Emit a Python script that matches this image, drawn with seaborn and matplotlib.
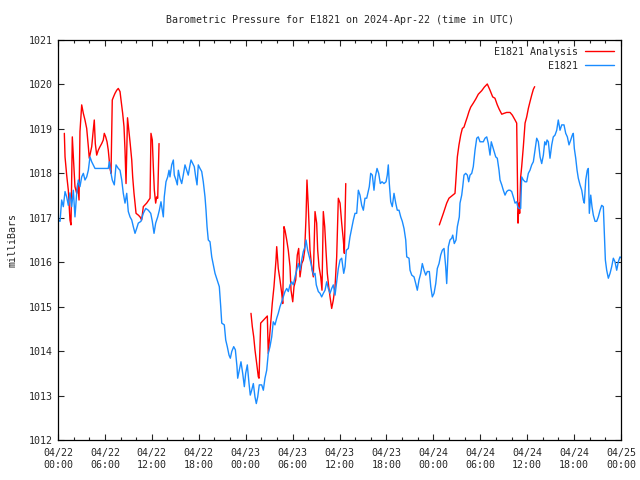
import pandas as pd
import seaborn as sns
import matplotlib
matplotlib.use("Agg")
import matplotlib.pyplot as plt
from matplotlib.lines import Line2D

# hours since 2024-04-22 00:00 UTC
e1821_hours = [0.00, 0.26, 0.47, 0.68, 0.90, 1.11, 1.32, 1.53, 1.75, 1.96, 2.17, 2.39, 2.60, 2.81, 3.03, 3.24,
               3.45, 3.67, 3.88, 4.09, 4.31, 4.51, 4.73, 6.43, 6.56, 6.78, 6.94, 7.20, 7.42, 7.71, 7.93, 8.15,
               8.35, 8.57, 8.79, 8.99, 9.21, 9.43, 9.63, 9.85, 10.06, 10.27, 10.61, 10.91, 11.22, 11.55, 11.86,
               12.06, 12.28, 12.49, 12.75, 12.96, 13.17, 13.34, 13.47, 13.59, 13.81, 14.03, 14.20, 14.32, 14.54,
               14.75, 14.87, 15.09, 15.26, 15.39, 15.60, 15.82, 16.02, 16.24, 16.46, 16.66, 16.84, 17.01, 17.23,
               17.43, 17.61, 17.78, 17.94, 18.16, 18.38, 18.58, 18.80, 18.93, 19.06, 19.22, 19.44, 19.66, 19.86,
               20.08, 20.42, 20.63, 20.81, 20.94, 21.27, 21.45, 21.65, 21.87, 22.04, 22.22, 22.47, 22.68, 22.89,
               22.98, 23.19, 23.40, 23.62, 23.83, 24.00, 24.21, 24.43, 24.59, 24.77, 24.98, 25.19, 25.36, 25.54,
               25.74, 26.05, 26.26, 26.47, 26.69, 26.89, 27.11, 27.33, 27.53, 27.75, 27.97, 28.17, 28.39, 28.61,
               28.81, 29.03, 29.25, 29.45, 29.67, 29.89, 30.09, 30.31, 30.53, 30.73, 30.95, 31.17, 31.37, 31.59,
               31.72, 31.93, 32.14, 32.36, 32.52, 32.70, 32.87, 33.03, 33.29, 33.51, 33.72, 33.93, 34.15, 34.36,
               34.57, 34.79, 35.00, 35.21, 35.43, 35.64, 35.85, 36.07, 36.28, 36.54, 36.71, 36.87, 37.13, 37.34,
               37.56, 37.77, 37.98, 38.20, 38.41, 38.62, 38.84, 39.05, 39.26, 39.48, 39.81, 39.99, 40.20, 40.41,
               40.58, 40.80, 41.01, 41.22, 41.44, 41.69, 41.95, 42.11, 42.24, 42.37, 42.55, 42.75, 42.97, 43.19,
               43.39, 43.61, 43.83, 44.03, 44.25, 44.47, 44.60, 44.89, 45.02, 45.24, 45.53, 45.75, 45.95, 46.17,
               46.39, 46.59, 46.81, 47.03, 47.23, 47.49, 47.67, 47.87, 48.09, 48.31, 48.51, 48.73, 48.94, 49.15,
               49.37, 49.58, 49.71, 49.92, 50.13, 50.35, 50.48, 50.68, 50.90, 51.07, 51.32, 51.41, 51.63, 51.76,
               51.92, 52.14, 52.35, 52.52, 52.69, 52.91, 53.11, 53.33, 53.55, 53.75, 53.97, 54.19, 54.39, 54.61,
               54.83, 55.03, 55.25, 55.41, 55.59, 55.76, 55.98, 56.18, 56.40, 56.53, 56.75, 56.95, 57.17, 57.38,
               57.59, 57.81, 58.02, 58.23, 58.45, 58.66, 58.79, 58.96, 59.17, 59.30, 59.51, 59.73, 59.94, 60.15,
               60.36, 60.58, 60.79, 61.00, 61.22, 61.43, 61.65, 61.86, 62.07, 62.25, 62.41, 62.54, 62.71, 62.92,
               63.14, 63.34, 63.56, 63.78, 63.98, 64.20, 64.42, 64.71, 64.93, 65.14, 65.35, 65.57, 65.77, 65.90,
               66.03, 66.21, 66.38, 66.54, 66.76, 66.98, 67.18, 67.31, 67.49, 67.69, 67.82, 67.95, 68.13, 68.29,
               68.46, 68.68, 68.89, 69.10, 69.32, 69.53, 69.74, 69.87, 70.00, 70.17, 70.38, 70.60, 70.81, 71.02,
               71.23, 71.45, 71.66, 71.87, 72.00]
e1821_mb = [1016.95, 1016.92, 1017.40, 1017.25, 1017.59, 1017.47, 1017.28, 1017.56, 1017.25, 1017.62, 1017.02,
            1017.55, 1017.85, 1017.70, 1017.92, 1018.00, 1017.85, 1017.92, 1018.07, 1018.37, 1018.26, 1018.19,
            1018.11, 1018.11, 1018.26, 1018.00, 1017.85, 1017.74, 1018.19, 1018.11, 1018.07, 1017.85, 1017.55,
            1017.33, 1017.55, 1017.14, 1017.02, 1016.95, 1016.80, 1016.65, 1016.76, 1016.88, 1016.92, 1017.10,
            1017.21, 1017.17, 1017.10, 1016.92, 1016.65, 1016.88, 1017.02, 1017.17, 1017.36, 1017.17, 1017.02,
            1017.47, 1017.81, 1017.92, 1018.07, 1017.92, 1018.19, 1018.30, 1017.96, 1017.85, 1017.74, 1018.07,
            1017.89, 1017.77, 1017.96, 1018.19, 1018.07, 1017.96, 1018.15, 1018.30, 1018.22, 1018.15, 1017.92,
            1017.74, 1018.19, 1018.11, 1018.04, 1017.81, 1017.47, 1017.17, 1016.80, 1016.50, 1016.46, 1016.12,
            1015.94, 1015.75, 1015.56, 1015.45, 1015.00, 1014.63, 1014.59, 1014.25, 1014.10, 1013.91, 1013.84,
            1013.99, 1014.10, 1014.03, 1013.65, 1013.39, 1013.57, 1013.76, 1013.50, 1013.20, 1013.50, 1013.69,
            1013.27, 1013.01, 1013.12, 1013.27, 1012.97, 1012.82, 1012.97, 1013.24, 1013.24, 1013.12, 1013.39,
            1013.57, 1013.95, 1014.10, 1014.32, 1014.66, 1014.59, 1014.74, 1014.85, 1015.00, 1015.11, 1015.22,
            1015.34, 1015.41, 1015.34, 1015.49, 1015.56, 1015.49, 1015.67, 1015.82, 1015.97, 1015.82, 1016.05,
            1016.24, 1016.35, 1016.50, 1016.27, 1016.12, 1015.97, 1015.82, 1015.71, 1015.75, 1015.49, 1015.34,
            1015.30, 1015.22, 1015.30, 1015.37, 1015.56, 1015.41, 1015.30, 1015.41, 1015.49, 1015.26, 1015.56,
            1015.86, 1016.05, 1016.09, 1015.75, 1015.90, 1016.27, 1016.31, 1016.57, 1016.76, 1016.95, 1017.10,
            1017.10, 1017.62, 1017.51, 1017.28, 1017.17, 1017.44, 1017.44, 1017.70, 1018.00, 1017.96, 1017.62,
            1017.92, 1018.11, 1018.00, 1017.77, 1017.81, 1017.77, 1017.81, 1017.96, 1018.19, 1017.77, 1017.36,
            1017.25, 1017.55, 1017.33, 1017.17, 1017.17, 1017.02, 1016.92, 1016.76, 1016.50, 1016.12, 1016.09,
            1015.82, 1015.71, 1015.67, 1015.52, 1015.37, 1015.60, 1015.75, 1015.97, 1015.82, 1015.71, 1015.79,
            1015.79, 1015.45, 1015.22, 1015.30, 1015.52, 1015.86, 1015.97, 1016.16, 1016.27, 1016.31, 1015.90,
            1015.52, 1016.35, 1016.50, 1016.54, 1016.61, 1016.42, 1016.50, 1016.80, 1017.02, 1017.33, 1017.51,
            1017.70, 1017.96, 1018.00, 1017.96, 1017.81, 1017.96, 1018.00, 1018.15, 1018.52, 1018.79, 1018.82,
            1018.71, 1018.71, 1018.71, 1018.79, 1018.82, 1018.67, 1018.41, 1018.71, 1018.60, 1018.49, 1018.37,
            1018.34, 1018.07, 1017.85, 1017.74, 1017.62, 1017.51, 1017.59, 1017.62, 1017.62, 1017.59, 1017.47,
            1017.33, 1017.36, 1017.25, 1017.21, 1017.21, 1017.92, 1017.85, 1017.81, 1017.81, 1018.00, 1018.07,
            1018.19, 1018.26, 1018.52, 1018.79, 1018.71, 1018.37, 1018.22, 1018.41, 1018.71, 1018.64, 1018.75,
            1018.71, 1018.34, 1018.64, 1018.82, 1018.86, 1018.97, 1019.20, 1018.97, 1019.09, 1019.09, 1018.90,
            1018.82, 1018.64, 1018.75, 1018.86, 1018.90, 1018.56, 1018.34, 1018.07, 1017.89, 1017.74, 1017.62,
            1017.40, 1017.33, 1017.85, 1018.07, 1018.11, 1017.10, 1017.51, 1017.25, 1017.06, 1016.92, 1016.92,
            1017.02, 1017.17, 1017.28, 1017.25, 1016.65, 1016.05, 1015.82, 1015.64, 1015.75, 1015.90, 1016.09,
            1016.01, 1015.82, 1016.01, 1016.12, 1016.10]

# analysis series, three separate runs
ana1_hours = [0.81, 0.90, 1.11, 1.32, 1.53, 1.66, 1.83, 2.01, 2.17, 2.39, 2.52, 2.69, 2.81, 3.03, 3.24, 3.45,
              3.67, 3.88, 4.00, 4.18, 4.31, 4.51, 4.64, 4.77, 4.95, 5.15, 5.37, 5.59, 5.79, 5.92, 6.10, 6.27,
              6.43, 6.65, 6.78, 6.94, 7.12, 7.29, 7.51, 7.71, 7.93, 8.06, 8.27, 8.44, 8.57, 8.70, 8.89, 9.21,
              9.43, 9.55, 9.72, 9.85, 9.98, 10.27, 10.49, 10.70, 10.91, 11.34, 11.77, 11.89, 12.06, 12.19, 12.32,
              12.49, 12.62, 12.75, 12.92]
ana1_mb = [1018.90, 1018.37, 1017.96, 1017.62, 1016.95, 1016.84, 1018.82, 1018.22, 1017.70, 1017.55, 1017.77,
           1017.40, 1018.94, 1019.54, 1019.35, 1019.20, 1019.01, 1018.60, 1018.34, 1018.49, 1018.60, 1018.97,
           1019.20, 1018.67, 1018.41, 1018.52, 1018.60, 1018.67, 1018.75, 1018.90, 1018.82, 1018.71, 1018.52,
           1018.11, 1018.00, 1019.65, 1019.73, 1019.80, 1019.87, 1019.91, 1019.84, 1019.65, 1019.35, 1019.05,
           1018.52, 1017.77, 1019.25, 1018.71, 1018.30, 1017.92, 1017.55, 1017.33, 1017.10, 1017.06, 1017.02,
           1016.95, 1017.25, 1017.33, 1017.44, 1018.90, 1018.75, 1018.15, 1017.62, 1017.33, 1017.47, 1017.44,
           1018.67]
ana2_hours = [24.68, 24.85, 25.03, 25.19, 25.41, 25.62, 25.71, 25.92, 26.77, 26.89, 27.40, 27.62, 27.88, 27.97,
              28.17, 28.39, 28.61, 28.74, 28.90, 29.03, 29.25, 29.45, 29.67, 29.80, 30.02, 30.18, 30.40, 30.60,
              30.78, 30.95, 31.17, 31.37, 31.55, 31.72, 31.84, 32.01, 32.23, 32.44, 32.65, 32.87, 33.08, 33.21,
              33.38, 33.60, 33.76, 33.93, 34.11, 34.27, 34.44, 34.62, 34.79, 35.00, 35.21, 35.43, 35.64, 35.85,
              36.07, 36.28, 36.49, 36.62, 36.80]
ana2_mb = [1014.85, 1014.55, 1014.32, 1014.03, 1013.72, 1013.42, 1013.39, 1014.63, 1014.79, 1013.95, 1015.07,
           1015.45, 1016.05, 1016.35, 1015.86, 1015.60, 1015.30, 1015.07, 1016.80, 1016.72, 1016.50, 1016.27,
           1015.90, 1015.37, 1015.11, 1015.45, 1015.60, 1016.16, 1016.31, 1015.67, 1015.97, 1016.05, 1016.27,
           1017.02, 1017.85, 1017.25, 1016.27, 1015.90, 1015.67, 1017.14, 1016.88, 1016.27, 1015.90, 1015.67,
           1015.37, 1017.14, 1016.80, 1016.27, 1015.75, 1015.45, 1015.22, 1014.96, 1015.15, 1015.45, 1016.12,
           1017.44, 1017.33, 1016.88, 1016.50, 1016.20, 1017.77]
ana3_hours = [48.77, 49.28, 49.71, 50.00, 50.35, 50.77, 50.90, 51.07, 51.28, 51.50, 51.71, 51.92, 52.14, 52.35,
              52.56, 52.78, 53.11, 53.42, 53.75, 54.19, 54.52, 54.90, 55.25, 55.59, 55.88, 56.18, 56.43, 56.75,
              57.04, 57.38, 57.81, 58.10, 58.45, 58.66, 58.74, 58.83, 58.96, 59.04, 59.17, 59.30, 59.51, 59.73,
              59.94, 60.15, 60.36, 60.58, 60.79, 60.96]
ana3_mb = [1016.84, 1017.10, 1017.33, 1017.44, 1017.49, 1017.55, 1017.89, 1018.37, 1018.64, 1018.86, 1019.01,
           1019.04, 1019.16, 1019.27, 1019.39, 1019.49, 1019.58, 1019.67, 1019.78, 1019.86, 1019.94, 1020.01,
           1019.87, 1019.72, 1019.69, 1019.54, 1019.44, 1019.33, 1019.35, 1019.37, 1019.37, 1019.31, 1019.20,
           1019.13, 1018.07, 1016.88, 1017.33, 1017.10, 1017.92, 1018.15, 1018.60, 1019.13, 1019.27, 1019.46,
           1019.61, 1019.76, 1019.89, 1019.95]

series_names = ["E1821 Analysis", "E1821"]
series_colors = ["#ff0000", "#1a8cff"]
tick_days = ["04/22", "04/22", "04/22", "04/22", "04/23", "04/23", "04/23", "04/23",
             "04/24", "04/24", "04/24", "04/24", "04/25"]
tick_times = ["00:00", "06:00", "12:00", "18:00"] * 3 + ["00:00"]
tick_hours = list(range(0, 73, 6))
y_ticks = list(range(1012, 1022))

# long table for seaborn
parts = []
for seg, (h, v) in enumerate([(ana1_hours, ana1_mb), (ana2_hours, ana2_mb), (ana3_hours, ana3_mb)]):
    parts.append(pd.DataFrame({"hours": h, "mb": v, "series": series_names[0], "seg": seg}))
parts.append(pd.DataFrame({"hours": e1821_hours, "mb": e1821_mb, "series": series_names[1], "seg": 10}))
df = pd.concat(parts, ignore_index=True)

sns.set_style("ticks")
plt.rcParams["font.family"] = ["DejaVu Sans Mono"]

fig = plt.figure(figsize=(6.4, 4.8), dpi=100)
ax = fig.add_axes([58 / 640, 40 / 480, 563 / 640, 400 / 480])

sns.lineplot(data=df, x="hours", y="mb", hue="series", units="seg", estimator=None,
             hue_order=series_names, palette=dict(zip(series_names, series_colors)),
             linewidth=1.0, legend=False, ax=ax)

ax.set_xlim(0, 72)
ax.set_ylim(1012, 1021)
ax.set_xticks(tick_hours)
ax.set_xticklabels([d + "\n" + t for d, t in zip(tick_days, tick_times)], fontsize=7.2)
ax.set_xticks(list(range(0, 73, 2)), minor=True)
ax.set_yticks(y_ticks)
ax.set_yticklabels([str(y) for y in y_ticks], fontsize=7.2)
ax.tick_params(which="major", direction="in", top=True, right=True, length=4.5, width=0.8, pad=6)
ax.tick_params(which="minor", direction="in", top=True, right=True, length=2.5, width=0.8)
ax.tick_params(axis="y", pad=4)
for sp in ax.spines.values():
    sp.set_linewidth(0.9)
    sp.set_color("black")

ax.set_xlabel("")
ax.set_ylabel("milliBars", fontsize=7.2, labelpad=8)
ax.set_title("Barometric Pressure for E1821 on 2024-Apr-22 (time in UTC)", fontsize=7.2, pad=12)

handles = [Line2D([], [], color=c, lw=1.0) for c in series_colors]
ax.legend(handles, series_names, loc="upper right", frameon=False, markerfirst=False,
          fontsize=7.2, handlelength=2.9, handletextpad=0.7, labelspacing=0.4,
          borderaxespad=0.4, borderpad=0.3)

fig.savefig("out.png", dpi=100)
